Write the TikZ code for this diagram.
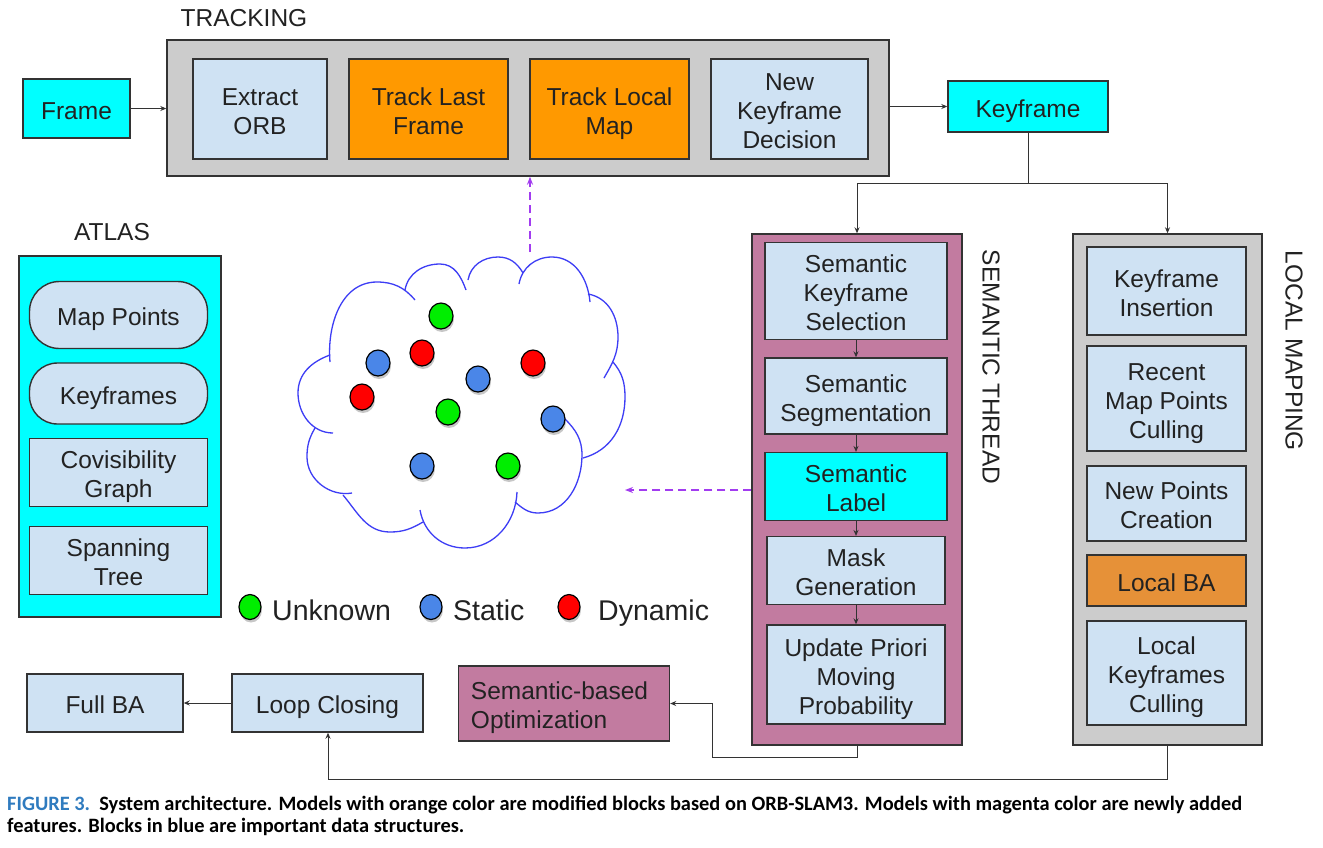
\documentclass[tikz,border=0pt]{standalone}
\usepackage{fontspec}
\setmainfont{Liberation Sans}
\newfontfamily\capfont{Carlito}
\usetikzlibrary{arrows.meta,shadows,shapes.geometric,calc}
\definecolor{cyanc}{HTML}{00FFFF}
\definecolor{lblue}{HTML}{CFE2F3}
\definecolor{orng}{HTML}{FF9900}
\definecolor{orngb}{HTML}{E69138}
\definecolor{magc}{HTML}{C27BA0}
\definecolor{grayc}{HTML}{CCCCCC}
\definecolor{bord}{HTML}{333333}
\definecolor{txt}{HTML}{222222}
\definecolor{cloudc}{HTML}{3D3DF5}
\definecolor{dashc}{HTML}{A23CF0}
\definecolor{dgreen}{HTML}{00EE00}
\definecolor{dblue}{HTML}{4A86E8}
\definecolor{dred}{HTML}{FF0000}
\definecolor{capblue}{HTML}{2F7BBF}
\newcommand\boxfont{\fontsize{24.5}{29}\selectfont}
\newcommand\legfont{\fontsize{28.5}{34}\selectfont}
\newcommand\cellt[1]{\begin{tabular}{@{}c@{}}\rule{0pt}{30pt}#1\end{tabular}}
\newcommand\cellleft[1]{\begin{tabular}{@{}l@{\hspace{9pt}}}\rule{0pt}{30pt}#1\end{tabular}}
\begin{document}
\begin{tikzpicture}[x=1pt,y=1pt,
  blk/.style={draw=bord, line width=1.4pt, text=txt, font=\boxfont, inner sep=0pt},
  sz/.style 2 args={minimum width=#1pt, minimum height=#2pt},
  lb/.style={blk, fill=lblue},
  cy/.style={blk, fill=cyanc},
  og/.style={blk, fill=orng},
  mg/.style={blk, fill=magc},
  gy/.style={blk, fill=grayc},
  lbl/.style={text=txt, font=\boxfont, inner sep=0pt},
  arr/.style={draw=bord, line width=1pt, -{Stealth[length=6pt,width=5pt]}},
  ln/.style={draw=bord, line width=1pt},
  dsh/.style={draw=dashc, line width=1.3pt, dash pattern=on 8pt off 5pt, -{Stealth[length=8pt,width=6pt]}},
  cloudline/.style={draw=cloudc, line width=1.3pt},
  dot/.style={ellipse, draw=black, line width=1.2pt, minimum width=24pt, minimum height=26pt, inner sep=0pt,
     drop shadow={shadow xshift=1pt, shadow yshift=-3pt, opacity=0.22, fill=black}},
  ldot/.style={dot, minimum width=22pt, minimum height=25pt}
]
\useasboundingbox (0,0) rectangle (1323,-847);
\fill[white] (0,0) rectangle (1323,-847);

% ---------- Tracking ----------
\node[lbl] (tracklbl) at (244,-18) {TRACKING};
\node[gy, sz={722}{136}] (track) at (528,-108) {};
\node[cy, sz={107}{59}] (frame) at (76.5,-108.5) {\cellt{Frame}};
\node[lb, sz={134}{100}] (eorb) at (260,-109) {\cellt{Extract\\ORB}};
\node[og, sz={159}{100}] (tlf) at (428.5,-109) {\cellt{Track Last\\Frame}};
\node[og, sz={159}{100}] (tlm) at (609.5,-109) {\cellt{Track Local\\Map}};
\node[lb, sz={157}{100}] (nkd) at (789.5,-109) {\cellt{New\\Keyframe\\Decision}};
\node[cy, sz={160}{51}] (kf) at (1028,-106.5) {\cellt{Keyframe}};

\draw[arr] (frame.east) -- (frame.east -| track.west);
\draw[arr] (track.east |- kf.west) -- (kf.west);

% ---------- Semantic thread ----------
\node[mg, sz={210}{511}] (st) at (857,-489.5) {};
\node[lbl, rotate=-90] (stlbl) at (991,-367) {SEMANTIC THREAD};
\node[lb, sz={182}{88}] (sks) at (856,-291) {\cellt{Semantic\\Keyframe\\Selection}};
\node[lb, sz={182}{76}] (sseg) at (856,-396) {\cellt{Semantic\\Segmentation}};
\node[cy, sz={182}{59}] (slab) at (856,-486.5) {\cellt{Semantic\\Label}};
\node[lb, sz={178}{63}] (mask) at (856,-570.5) {\cellt{Mask\\Generation}};
\node[lb, sz={178}{99}] (upd) at (856,-674.5) {\cellt{Update Priori\\Moving\\Probability}};
\draw[arr] (sks.south) -- (sseg.north);
\draw[arr] (sseg.south) -- (slab.north);
\draw[arr] (slab.south) -- (mask.north);
\draw[arr] (mask.south) -- (upd.north);

% ---------- Local mapping ----------
\node[gy, sz={189}{511}] (lm) at (1167.5,-489.5) {};
\node[lbl, rotate=-90] (lmlbl) at (1294,-351) {LOCAL MAPPING};
\node[lb, sz={159}{88}] (kfi) at (1166.5,-291) {\cellt{Keyframe\\Insertion}};
\node[lb, sz={159}{105}] (rmp) at (1166.5,-398.5) {\cellt{Recent\\Map Points\\Culling}};
\node[lb, sz={159}{75}] (npc) at (1166.5,-503.5) {\cellt{New Points\\Creation}};
\node[blk, fill=orngb, sz={159}{51}] (lba) at (1166.5,-580.5) {\cellt{Local BA}};
\node[lb, sz={159}{104}] (lkc) at (1166.5,-673) {\cellt{Local\\Keyframes\\Culling}};

% keyframe split
\coordinate (split) at (1028,-183);
\draw[ln] (kf.south) -- (split);
\draw[arr] (split) -| (st.north);
\draw[arr] (split) -| (lm.north);

% ---------- Atlas ----------
\node[lbl] (atlaslbl) at (112,-232) {ATLAS};
\node[cy, sz={202}{361}] (atlas) at (120,-436.5) {};
\node[lb, sz={178}{67}, rounded corners=30pt] (mp) at (118.5,-315) {\cellt{Map Points}};
\node[lb, sz={178}{61}, rounded corners=28pt] (kfs) at (118.5,-393.5) {\cellt{Keyframes}};
\node[lb, sz={178}{67}] (cov) at (118.5,-472.5) {\cellt{Covisibility\\Graph}};
\node[lb, sz={178}{67}] (spt) at (118.5,-560.5) {\cellt{Spanning\\Tree}};

% ---------- Bottom row ----------
\node[lb, sz={156}{58}] (fullba) at (105,-703) {\cellt{Full BA}};
\node[lb, sz={191}{58}] (loop) at (327.5,-703) {\cellt{Loop Closing}};
\node[mg, sz={211}{75}] (sbo) at (564,-703.5) {\cellleft{Semantic-based\\Optimization}};
\draw[arr] (loop.west) -- (fullba.east);
\coordinate (stj) at (712,-757);
\draw[arr] (st.south) |- (stj) |- (sbo.east);
\coordinate (lmj) at (328,-779);
\draw[arr] (lm.south) |- (lmj) -- (lmj |- loop.south);

% ---------- Cloud ----------
\draw[cloudline] (330,-362) to[out=95,in=180] (377,-282) to[out=0,in=130] (415,-300);
\draw[cloudline] (405,-290) to[out=80,in=180] (440,-264) to[out=0,in=110] (466,-290);
\draw[cloudline] (468,-280) to[out=80,in=180] (498,-257) to[out=0,in=120] (523,-273);
\draw[cloudline] (519,-284) to[out=80,in=180] (552,-257) to[out=0,in=95] (590,-302);
\draw[cloudline] (588,-294) to[out=-10,in=90] (618,-337) to[out=-90,in=60] (604,-378);
\draw[cloudline] (613,-362) to[out=-50,in=90] (625,-397) to[out=-90,in=15] (583,-458);
\draw[cloudline] (565,-419) to[out=-45,in=90] (582,-455) to[out=-90,in=0] (538,-513) to[out=180,in=-40] (515,-502);
\draw[cloudline] (517,-492) to[out=-92,in=0] (465,-548) to[out=180,in=-80] (420,-510);
\draw[cloudline] (423,-522) to[out=-150,in=0] (390,-532) to[out=180,in=-50] (343,-495);
\draw[cloudline] (352,-493) to[out=-170,in=-90] (307,-457) to[out=90,in=-120] (315,-428);
\draw[cloudline] (333,-433) to[out=180,in=-90] (298,-393) to[out=90,in=-160] (330,-355);

\node[dot, fill=dgreen] (p1) at (441,-316) {};
\node[dot, fill=dred] (p2) at (422,-353) {};
\node[dot, fill=dblue] (p3) at (378,-363) {};
\node[dot, fill=dred] (p4) at (533,-363) {};
\node[dot, fill=dblue] (p5) at (478,-379) {};
\node[dot, fill=dred] (p6) at (362,-397) {};
\node[dot, fill=dgreen] (p7) at (448,-412) {};
\node[dot, fill=dblue] (p8) at (553,-419) {};
\node[dot, fill=dblue] (p9) at (422,-466) {};
\node[dot, fill=dgreen] (p10) at (508,-466) {};

\coordinate (cloudright) at (625,-490);
\coordinate (cloudtop) at (530,-252);
\draw[dsh] (st.west |- cloudright) -- (cloudright);
\draw[dsh] (cloudtop) -- (cloudtop |- track.south);

% ---------- Legend ----------
\node[ldot, fill=dgreen] (lg1) at (250,-607) {};
\node[ldot, fill=dblue] (lg2) at (431,-607) {};
\node[ldot, fill=dred] (lg3) at (569,-607) {};
\node[anchor=base west, inner sep=0pt, text=txt, font=\legfont] (lt1) at (272,-620) {Unknown};
\node[anchor=base west, inner sep=0pt, text=txt, font=\legfont] (lt2) at (453,-620) {Static};
\node[anchor=base west, inner sep=0pt, text=txt, font=\legfont] (lt3) at (598,-620) {Dynamic};

% ---------- Caption ----------
\node[anchor=base west, inner sep=0pt, font=\capfont\bfseries\fontsize{20.4}{23}\selectfont] (cap1) at (7,-810)
  {\textcolor{capblue}{FIGURE 3.}\ \ System architecture. Models with orange color are modified blocks based on ORB-SLAM3. Models with magenta color are newly added};
\node[anchor=base west, inner sep=0pt, font=\capfont\bfseries\fontsize{20.4}{23}\selectfont] (cap2) at (7,-832)
  {features. Blocks in blue are important data structures.};
\end{tikzpicture}
\end{document}
